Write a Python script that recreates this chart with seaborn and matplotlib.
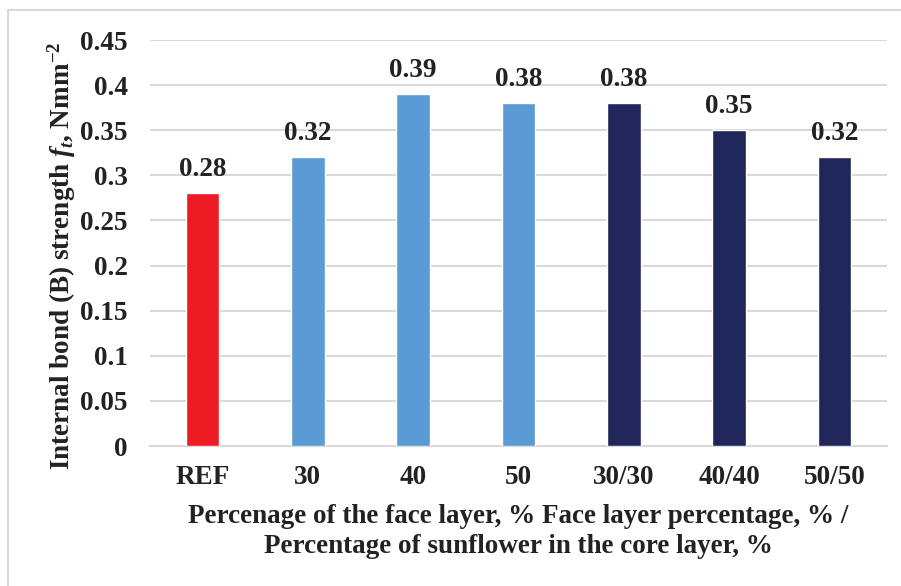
import matplotlib
matplotlib.use("Agg")
import matplotlib.pyplot as plt
from matplotlib.patches import Rectangle
import seaborn as sns
import pandas as pd

categories = ["REF", "30", "40", "50", "30/30", "40/40", "50/50"]
values = [0.28, 0.32, 0.39, 0.38, 0.38, 0.35, 0.32]
bar_colors = ["#ED1C24", "#5B9BD5", "#5B9BD5", "#5B9BD5", "#1F265A", "#1F265A", "#1F265A"]
y_ticks = [0, 0.05, 0.1, 0.15, 0.2, 0.25, 0.3, 0.35, 0.4, 0.45]
y_tick_labels = ["0", "0.05", "0.1", "0.15", "0.2", "0.25", "0.3", "0.35", "0.4", "0.45"]

sns.set_theme(style="white")
plt.rcParams["font.family"] = ["Liberation Serif", "DejaVu Serif"]
plt.rcParams["font.weight"] = "bold"
plt.rcParams["mathtext.fontset"] = "custom"
plt.rcParams["mathtext.it"] = "Liberation Serif:italic:bold"
plt.rcParams["mathtext.rm"] = "Liberation Serif:bold"
plt.rcParams["mathtext.bf"] = "Liberation Serif:bold"

FS = 19.5
TEXT = "#222222"

df = pd.DataFrame({"category": categories, "value": values})

fig = plt.figure(figsize=(9.01, 5.86), dpi=100)
ax = fig.add_axes([150 / 901, 1 - 446 / 586, 737 / 901, 406 / 586])

sns.barplot(data=df, x="category", y="value", hue="category", palette=bar_colors,
            order=categories, hue_order=categories, legend=False, width=0.32,
            saturation=1, ax=ax, zorder=3)

ax.set_ylim(0, 0.45)
ax.set_yticks(y_ticks)
ax.set_yticklabels(y_tick_labels)
ax.yaxis.grid(True, color="#D9D9D9", linewidth=1.5, zorder=0)
ax.set_axisbelow(True)
for side in ["top", "right", "left"]:
    ax.spines[side].set_visible(False)
ax.spines["bottom"].set_color("#D9D9D9")
ax.spines["bottom"].set_linewidth(1.5)
ax.tick_params(axis="both", length=0, labelsize=FS, colors=TEXT)
ax.tick_params(axis="x", pad=14)
ax.tick_params(axis="y", pad=16)
for lbl in ax.get_xticklabels() + ax.get_yticklabels():
    lbl.set_fontweight("bold")

for container in ax.containers:
    ax.bar_label(container, fmt="%.2f", padding=8, fontsize=FS,
                 fontweight="bold", color=TEXT)

ax.set_xlabel("Percenage of the face layer, % Face layer percentage, % /\n"
              "Percentage of sunflower in the core layer, %",
              fontsize=FS, fontweight="bold", color=TEXT,
              labelpad=10, linespacing=1.25)
ax.set_ylabel(r"Internal bond (B) strength $f_t$, Nmm$^{-2}$",
              fontsize=FS, fontweight="bold", color=TEXT)
ax.yaxis.set_label_coords(-72 / 737, 0.468)

fig.patches.append(Rectangle((8 / 901, -0.1), 1.2, 1 - 10 / 586 + 0.1,
                             transform=fig.transFigure, fill=False,
                             edgecolor="#D9D9D9", linewidth=1.5))

fig.savefig("out.png", dpi=100)
